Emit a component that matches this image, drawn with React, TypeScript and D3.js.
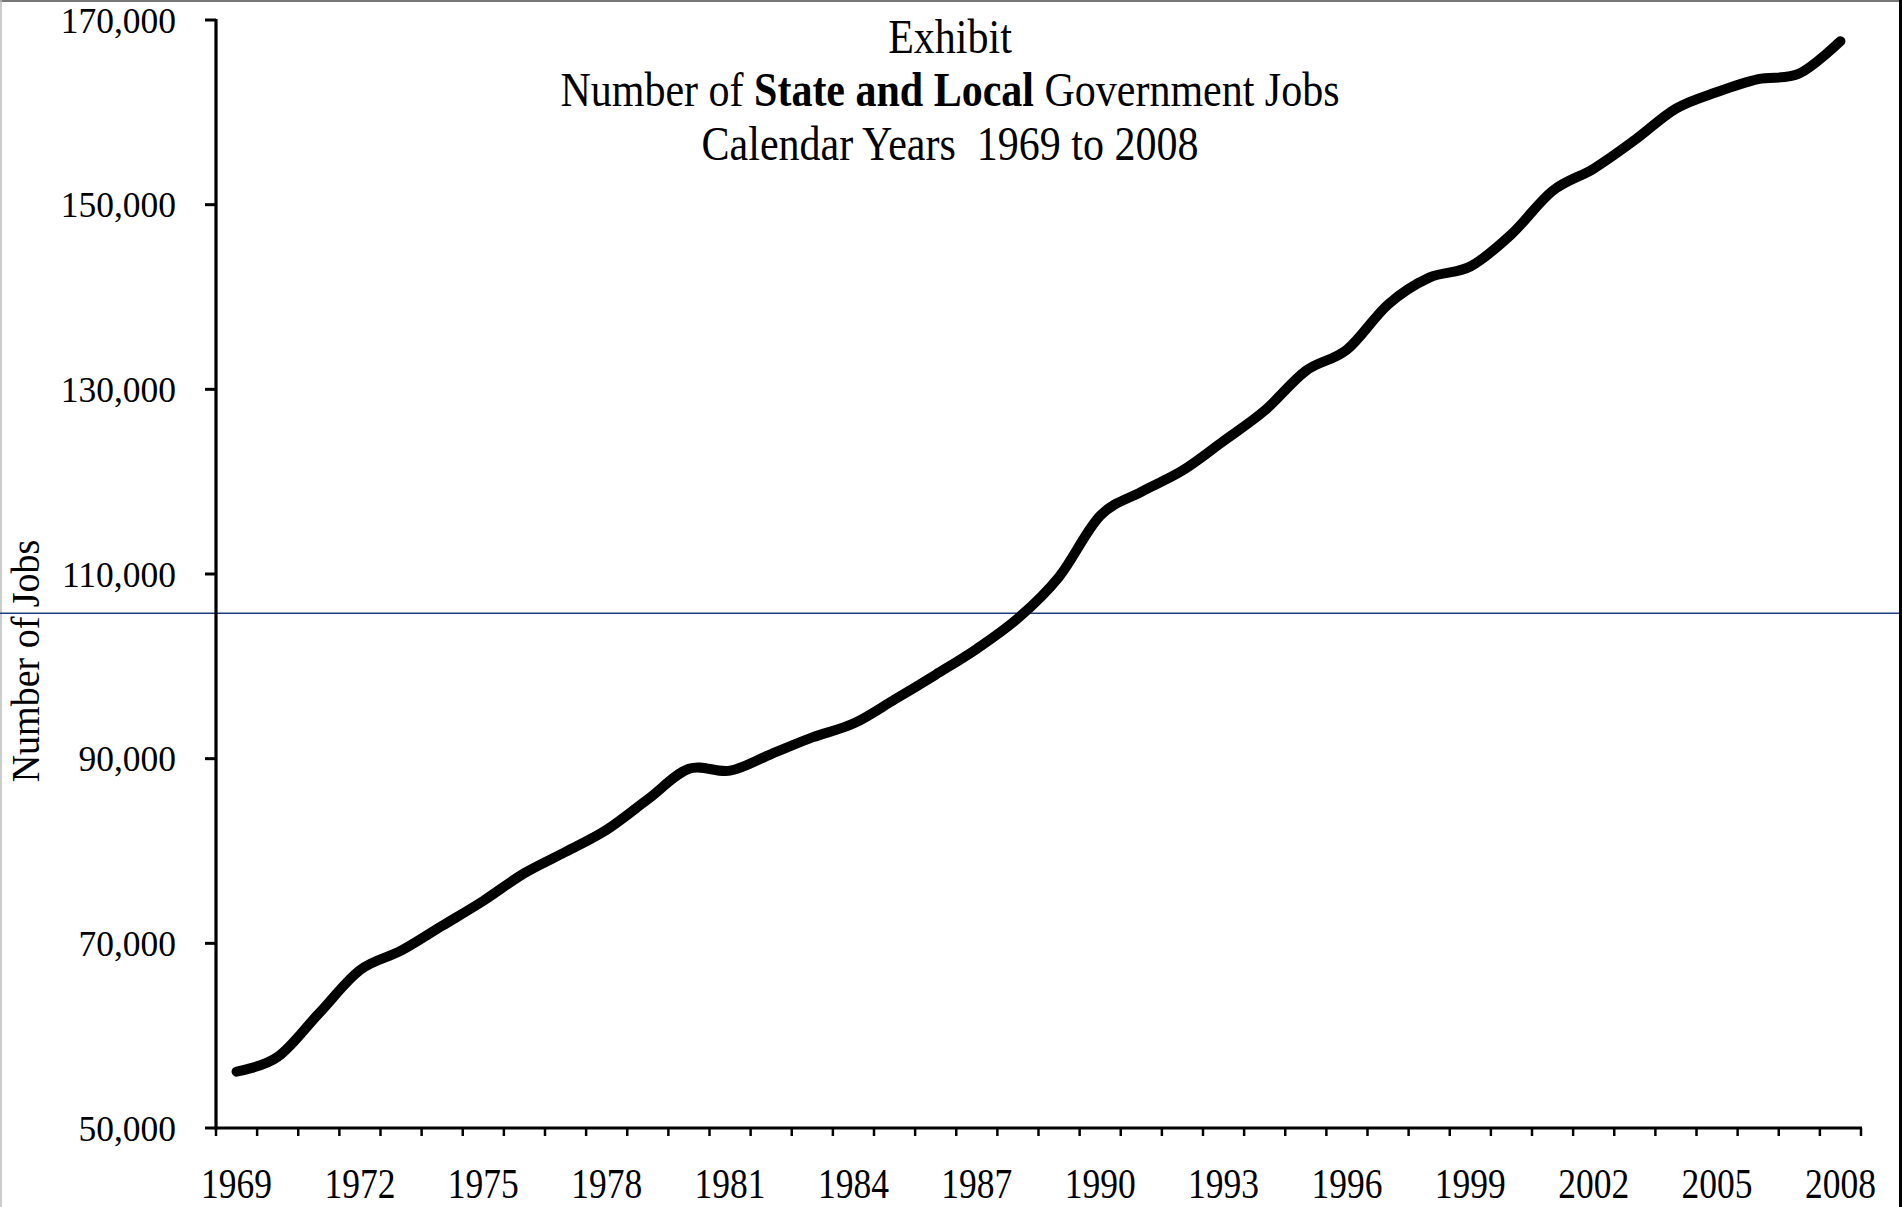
import React from 'react';
import * as d3 from 'd3';

// calendar years on the category axis
const years = [
  '1969', '1970', '1971', '1972', '1973', '1974', '1975', '1976', '1977', '1978',
  '1979', '1980', '1981', '1982', '1983', '1984', '1985', '1986', '1987', '1988',
  '1989', '1990', '1991', '1992', '1993', '1994', '1995', '1996', '1997', '1998',
  '1999', '2000', '2001', '2002', '2003', '2004', '2005', '2006', '2007', '2008',
];

// number of state and local government jobs
const jobs = [
  56100, 57700, 62400, 67100, 69200, 71900, 74600, 77600, 79900, 82300,
  85600, 88900, 88700, 90500, 92300, 93800, 96400, 99100, 101900, 105200,
  109700, 116300, 118900, 121200, 124400, 127700, 132000, 134300, 139200, 142100,
  143300, 146800, 151500, 153900, 157000, 160400, 162200, 163600, 164200, 167700,
];

const yTicks = [50000, 70000, 90000, 110000, 130000, 150000, 170000];
const xLabels = ['1969', '1972', '1975', '1978', '1981', '1984', '1987', '1990', '1993', '1996', '1999', '2002', '2005', '2008'];
const referenceLevel = 105750;

const W = 1902;
const H = 1207;
const plot = { left: 216, right: 1861, top: 20, bottom: 1128 };
const font = '"Liberation Serif", "Times New Roman", Times, serif';
const stretch = 1.16; // text in the original is drawn a bit taller than wide

export default function App() {
  const x = d3.scaleBand<string>().domain(years).range([plot.left, plot.right]);
  const y = d3.scaleLinear().domain([50000, 170000]).range([plot.bottom, plot.top]);
  const cx = (yr: string) => (x(yr) as number) + x.bandwidth() / 2;

  const line = d3
    .line<number>()
    .x((_, i) => cx(years[i]))
    .y((d) => y(d))
    .curve(d3.curveCatmullRom.alpha(0));

  const fmt = d3.format(',');
  const xTickPos = years.map((yr) => x(yr) as number).concat([plot.right]);
  const titleX = 950;

  return (
    <svg
      width={W}
      height={H}
      style={{ position: 'absolute', left: 0, top: 0, background: '#fff' }}
      fontFamily={font}
    >
      <rect x={0} y={0} width={W} height={H} fill="#fff" />
      {/* outer chart border */}
      <line x1={0} x2={W} y1={1} y2={1} stroke="#777" strokeWidth={2} />
      <line x1={1} x2={1} y1={0} y2={H} stroke="#bbb" strokeWidth={1.5} />
      <line x1={1900.5} x2={1900.5} y1={0} y2={H} stroke="#000" strokeWidth={3} />

      {/* title */}
      <g fill="#000" textAnchor="middle">
        <text transform={`translate(${titleX},53) scale(1,${stretch})`} fontSize={42}>
          Exhibit
        </text>
        <text transform={`translate(${titleX},106) scale(1,${stretch})`} fontSize={42}>
          Number of <tspan fontWeight="bold">State and Local</tspan> Government Jobs
        </text>
        <text transform={`translate(${titleX},160) scale(1,${stretch})`} fontSize={42} style={{ whiteSpace: 'pre' }}>
          {'Calendar Years  1969 to 2008'}
        </text>
      </g>

      {/* horizontal reference line */}
      <line x1={0} x2={1899} y1={y(referenceLevel)} y2={y(referenceLevel)} stroke="#1f3d7a" strokeWidth={1.4} />

      {/* y axis */}
      <line x1={plot.left} x2={plot.left} y1={plot.top - 1} y2={plot.bottom + 1.5} stroke="#000" strokeWidth={3.2} />
      {yTicks.map((t) => (
        <g key={t}>
          <line x1={plot.left - 11} x2={plot.left} y1={y(t)} y2={y(t)} stroke="#000" strokeWidth={3} />
          <text x={176} y={y(t) + 12.5} textAnchor="end" fontSize={35.5} fill="#000">
            {fmt(t)}
          </text>
        </g>
      ))}
      <text transform={`translate(39,661) rotate(-90) scale(1,1.05)`} textAnchor="middle" fontSize={38} fill="#000">
        Number of Jobs
      </text>

      {/* x axis */}
      <line x1={plot.left - 1.5} x2={plot.right + 1} y1={plot.bottom} y2={plot.bottom} stroke="#000" strokeWidth={3.2} />
      {xTickPos.map((p, i) => (
        <line key={i} x1={p} x2={p} y1={plot.bottom} y2={plot.bottom + 8} stroke="#000" strokeWidth={2.5} />
      ))}
      {xLabels.map((l) => (
        <text
          key={l}
          transform={`translate(${cx(l)},1198) scale(1,${stretch})`}
          textAnchor="middle"
          fontSize={35.5}
          fill="#000"
        >
          {l}
        </text>
      ))}

      {/* data line */}
      <path
        d={line(jobs) ?? ''}
        fill="none"
        stroke="#000"
        strokeWidth={10}
        strokeLinecap="round"
        strokeLinejoin="round"
      />
    </svg>
  );
}
